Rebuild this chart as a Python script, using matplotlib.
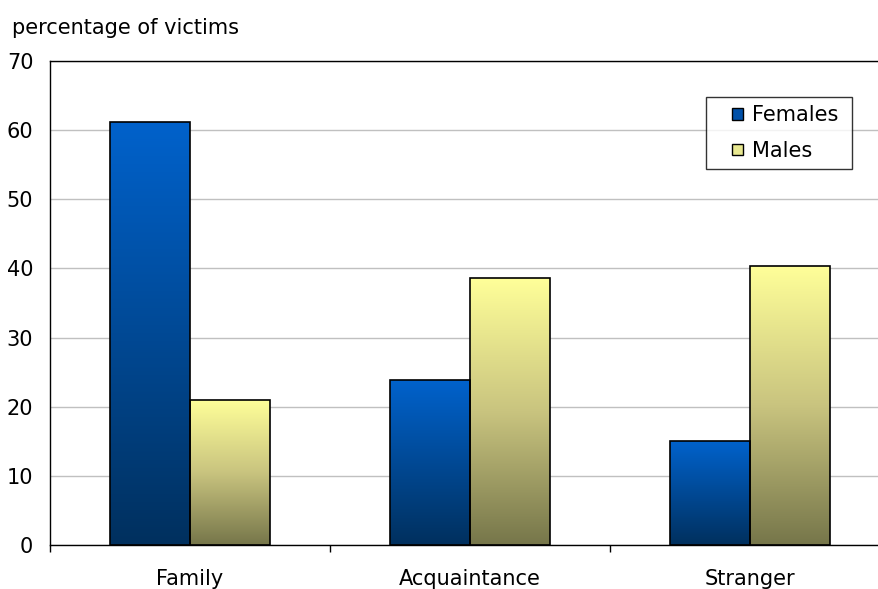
import numpy as np
import matplotlib
matplotlib.use("Agg")
import matplotlib.pyplot as plt
from matplotlib.colors import LinearSegmentedColormap
from matplotlib.patches import Patch, Rectangle
from matplotlib.legend_handler import HandlerPatch

categories = ["Family", "Acquaintance", "Stranger"]
females = [61.2, 23.8, 15.0]
males = [21.0, 38.6, 40.4]
series_names = ["Females", "Males"]
yticks = [0, 10, 20, 30, 40, 50, 60, 70]

fem_cmap = LinearSegmentedColormap.from_list("fem", ["#00305E", "#0062CC"])
male_cmap = LinearSegmentedColormap.from_list("male", ["#76764A", "#C9C47F", "#FFFF99"])

FS = 15
plt.rcParams['font.family'] = ['DejaVu Sans']
fig = plt.figure(figsize=(8.79, 5.89), dpi=100)
ax = fig.add_axes([50 / 879, 1 - 545 / 589, 840 / 879, 484 / 589])

x = np.arange(len(categories))
w = 80 / 280
grad = np.linspace(0, 1, 256).reshape(-1, 1)

def draw(bars, cmap):
    for b in bars:
        b.set_facecolor("none")
        x0, y0 = b.get_x(), b.get_y()
        bw, bh = b.get_width(), b.get_height()
        im = ax.imshow(grad, cmap=cmap, origin="lower", aspect="auto",
                       extent=[x0, x0 + bw, y0, y0 + bh], zorder=2)
        im.set_clip_path(b)

fb = ax.bar(x - w / 2, females, w, edgecolor="black", linewidth=1.2, zorder=3)
mb = ax.bar(x + w / 2, males, w, edgecolor="black", linewidth=1.2, zorder=3)
draw(fb, fem_cmap)
draw(mb, male_cmap)

ax.set_xlim(-0.5, 2.5)
ax.set_ylim(0, 70)
ax.set_yticks(yticks)
ax.set_xticks(x)
ax.set_xticklabels(categories, fontsize=FS)
ax.tick_params(axis="x", length=0, pad=17)
ax.set_xticks([-0.5, 0.5, 1.5, 2.5], minor=True)
ax.tick_params(axis="x", which="minor", length=5, width=1, direction="out")
ax.tick_params(axis="y", length=0, pad=12, labelsize=FS)
ax.yaxis.grid(True, color="#C0C0C0", linewidth=1)
ax.set_axisbelow(True)
for s in ax.spines.values():
    s.set_color("black")
    s.set_linewidth(1)

def square(legend, orig_handle, xdescent, ydescent, width, height, fontsize):
    s = 8.0
    return Rectangle((width - s, (height - s) / 2), s, s)

handles = [Patch(facecolor="#0050A8", edgecolor="black", label=series_names[0]),
           Patch(facecolor="#E8E890", edgecolor="black", label=series_names[1])]
leg = fig.legend(handles=handles, loc="upper left",
                 bbox_to_anchor=(706 / 879, 1 - 168 / 589, 146 / 879, 71 / 589),
                 mode="expand",
                 fontsize=FS, frameon=True, fancybox=False, edgecolor="black",
                 handlelength=1.4, handleheight=0.7, handletextpad=0.42,
                 borderpad=0.4, labelspacing=0.75, borderaxespad=0,
                 handler_map={Patch: HandlerPatch(patch_func=square)})
leg.get_frame().set_linewidth(1)

fig.text(12 / 879, 1 - 28 / 589, "percentage of victims", fontsize=FS, va="center", ha="left")

fig.savefig("out.png", dpi=100)
